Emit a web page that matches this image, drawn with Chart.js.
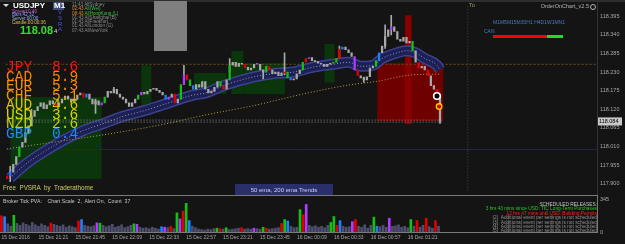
<!DOCTYPE html>
<html>
<head>
<meta charset="utf-8">
<script src="https://cdn.jsdelivr.net/npm/chart.js@4.4.0/dist/chart.umd.min.js"></script>
<style>
html, body { margin: 0; padding: 0; background: #141414; }
#wrap { position: relative; width: 625px; height: 244px; overflow: hidden; background: #141414; font-family: "Liberation Sans", Arial, sans-serif; }
canvas { position: absolute; left: 0; }
#main { top: 0; }
#vol { top: 196px; }
.t { position: absolute; white-space: pre; line-height: 1; }
.cur { position: absolute; font-family: "Liberation Mono", monospace; font-size: 14.5px; line-height: 9.5px; white-space: pre; }
</style>
</head>
<body>
<div id="wrap">
  <canvas id="main" width="625" height="196"></canvas>
  <canvas id="vol" width="625" height="48"></canvas>

  <div style="position:absolute;left:0;top:0;width:625px;height:2px;background:#2e2e2e"></div>
  <div style="position:absolute;left:597px;top:0;width:1px;height:195px;background:#333"></div>
  <div style="position:absolute;left:-1px;top:195px;width:599px;height:38px;box-sizing:border-box;border:1px solid #7a7a7a"></div>

  <!-- top left info -->
  <div style="position:absolute;left:3px;top:4px;width:0;height:0;border-left:3px solid transparent;border-right:3px solid transparent;border-top:3px solid #ddd"></div>
  <div class="t" style="left:13px;top:2px;font-size:8px;font-weight:bold;color:#fff">USDJPY</div>
  <div style="position:absolute;left:53px;top:2px;width:11px;height:8px;background:#3d4a7a"></div>
  <div class="t" style="left:54px;top:2px;font-size:8px;font-weight:bold;color:#fff">M1</div>
  <div class="t" style="left:12px;top:9.5px;font-size:4.6px;color:#c860c8">Spread:0.40</div>
  <div class="t" style="left:12px;top:13.2px;font-size:4.6px;color:#8aa0ff">Bars:42 32</div>
  <div class="t" style="left:12px;top:16.9px;font-size:4.6px;color:#90b8e8">Server:00:00</div>
  <div class="t" style="left:12px;top:20.6px;font-size:4.6px;color:#e0c050">Candle:00:00:36</div>
  <div class="t" style="left:20px;top:24.6px;font-size:11px;font-weight:bold;color:#33dd33">118.08</div>
  <div class="t" style="left:54px;top:28px;font-size:6px;color:#ddd">4</div>
  <div class="t" style="left:58px;top:10px;font-size:6px;line-height:5.8px;color:#4a5ad8">V<br>S<br>R<br>A</div>
  <div class="t" style="left:72px;top:3px;font-size:4.6px;line-height:4.3px;color:#8c8c8c">11:43 AllSydney
<span style="color:#e09030">02:43</span> <span style="color:#40c040">All(Wel)</span>
<span style="color:#e09030">08:43</span> <span style="color:#40c040">AllHongKong (L)</span>
01:43 AllShanghai (B)
01:43 AllFrankfurt
01:43 AllLondon (G)
07:43 AllNewYork</div>
  <div style="position:absolute;left:154px;top:1px;width:33px;height:50px;background:#7f7f7f"></div>

  <!-- currency strength -->
  <div id="cur"></div>

  <!-- right top -->
  <div class="t" style="left:469px;top:3px;font-size:5.5px;color:#a0a060">To</div>
  <div class="t" style="right:36px;top:4px;font-size:5.5px;color:#b4b4b4">OrderOnChart_v2.5</div>
  <div style="position:absolute;left:590px;top:3.5px;width:4px;height:4px;border:1px solid #b4b4b4;border-radius:50%"></div>
  <div class="t" style="left:493px;top:20px;font-size:5px;color:#4a7ab8">M1M5M15M30H1 H4D1W1MN1</div>
  <div class="t" style="left:484px;top:28.5px;font-size:5px;color:#4a7ab8">CAN</div>
  <div style="position:absolute;left:493px;top:35px;width:54px;height:2.5px;background:#ff0000"></div>
  <div style="position:absolute;left:547px;top:35px;width:16px;height:2.5px;background:#22dd22"></div>

  <!-- bottom of main -->
  <div class="t" style="left:3px;top:185px;font-size:6.3px;color:#cccc66">Free  PVSRA  by  Traderathome</div>
  <div style="position:absolute;left:235px;top:184px;width:98px;height:11px;background:#2a2e6a"></div>
  <div class="t" style="left:235px;top:186.5px;width:98px;text-align:center;font-size:6px;color:#c8d0ff">50 ema, 200 ema Trends</div>

  <!-- volume panel -->
  <div class="t" style="left:3px;top:198.5px;font-size:5.2px;color:#c8c8c8">Broker Tick PVA:    Chart Scale  2,  Alert On,  Count  37</div>
  <div class="t" style="right:28px;top:203px;font-size:4.8px;line-height:4.4px;text-align:right;color:#909090"><span style="color:#c8c8c8">SCHEDULED RELEASES:</span>
<span style="color:#22cc22">3 hrs 43 mins since USD: TIC Long-Term Purchases</span>
<span style="color:#ff2020">12 hrs 47 mins until USD: Building Permits</span>
(2)  Additional event per settings is not scheduled
(3)  Additional event per settings is not scheduled
(4)  Additional event per settings is not scheduled
(5)  Additional event per settings is not scheduled</div>
</div>

<script>
// time axis: one slot = 2 minutes
const tickSlots = [0, 12, 24, 36, 48, 60, 72, 84, 96, 108, 120, 132];
const tickLabels = ["15 Dec 2016", "15 Dec 21:21", "15 Dec 21:45", "15 Dec 22:09", "15 Dec 22:33", "15 Dec 22:57",
  "15 Dec 23:21", "15 Dec 23:45", "16 Dec 00:09", "16 Dec 00:33", "16 Dec 00:57", "16 Dec 01:21"];
const priceTicks = [117.900, 117.955, 118.010, 118.065, 118.120, 118.175, 118.230, 118.285, 118.340, 118.395];

const closes = [
  117.923, 117.934, 117.957, 117.980, 118.008, 118.022, 118.051, 118.071, 118.099, 118.116,
  118.128, 118.139, 118.122, 118.133, 118.145, 118.136, 118.128, 118.139, 118.150, 118.159,
  118.150, 118.142, 118.150, 118.162, 118.168, 118.156, 118.165, 118.150, 118.136, 118.145,
  118.133, 118.139, 118.156, 118.173, 118.168, 118.179, 118.165, 118.156, 118.150, 118.139,
  118.128, 118.139, 118.150, 118.162, 118.170, 118.165, 118.173, 118.179, 118.182, 118.176,
  118.170, 118.162, 118.150, 118.156, 118.165, 118.139, 118.150, 118.193, 118.222, 118.207,
  118.190, 118.179, 118.193, 118.185, 118.202, 118.179, 118.168, 118.173, 118.185, 118.202,
  118.190, 118.179, 118.207, 118.250, 118.259, 118.247, 118.256, 118.253, 118.244, 118.236,
  118.242, 118.253, 118.253, 118.236, 118.230, 118.247, 118.236, 118.225, 118.230, 118.219,
  118.227, 118.230, 118.213, 118.207, 118.210, 118.225, 118.236, 118.259, 118.270, 118.273,
  118.264, 118.261, 118.256, 118.253, 118.247, 118.253, 118.256, 118.259, 118.270, 118.298,
  118.304, 118.296, 118.287, 118.276, 118.236, 118.219, 118.213, 118.207, 118.216, 118.242,
  118.247, 118.264, 118.287, 118.307, 118.335, 118.355, 118.364, 118.350, 118.327, 118.321,
  118.333, 118.316, 118.321, 118.293, 118.259, 118.242, 118.247, 118.236, 118.219, 118.190,
  118.179, 118.162, 118.084
];
const firstOpen = 117.915;

const wickSlots = [1, 8, 29, 35, 58, 73, 84, 91, 109, 117, 124, 126, 142];
const wickLows  = [117.906, 118.090, 118.108, 118.170, 118.205, 118.230, 118.210, 118.222, 118.270, 118.199, 118.300, 118.340, 118.078];
const wickHighs = [117.951, 118.120, 118.150, 118.185, 118.250, 118.270, 118.236, 118.287, 118.307, 118.215, 118.370, 118.398, 118.162];

const volumes = [
  170, 160, 86, 60, 175, 90, 70, 95, 80, 65,
  100, 75, 60, 85, 70, 55, 94, 80, 70, 60,
  75, 50, 65, 55, 45, 115, 130, 70, 60, 55,
  65, 95, 92, 70, 55, 65, 80, 50, 60, 75,
  45, 55, 70, 85, 80, 50, 40, 45, 35, 50,
  40, 30, 55, 50, 45, 60, 35, 200, 137, 218,
  300, 120, 60, 45, 30, 25, 20, 30, 25, 35,
  40, 35, 30, 45, 25, 30, 35, 40, 45, 30,
  35, 30, 40, 35, 30, 50, 40, 30, 35, 40,
  45, 90, 130, 115, 60, 45, 50, 234, 180, 288,
  70, 55, 65, 50, 60, 45, 70, 100, 162, 70,
  119, 60, 50, 55, 108, 130, 60, 50, 75, 40,
  70, 155, 60, 55, 70, 50, 144, 60, 65, 75,
  50, 60, 45, 130, 60, 120, 50, 70, 144, 55,
  40, 119, 60
];

// PVSRA bar classes
const pvsraSlots = [0, 1, 4, 16, 25, 26, 31, 32, 43, 44, 52, 53, 55, 57, 58, 59, 60, 61, 70, 71,
  73, 78, 82, 85, 86, 91, 92, 93, 97, 98, 99, 107, 108, 109, 110, 114, 115, 121, 122, 126,
  133, 135, 138, 141];
const pvsraKinds = ["climaxBear", "risingBull", "climaxBull", "climaxBear", "climaxBear", "risingBull", "risingBear", "climaxBull", "climaxBull", "risingBear",
  "risingBull", "risingBear", "climaxBear", "climaxBull", "risingBear", "climaxBear", "climaxBull", "risingBull", "climaxBull", "climaxBear",
  "climaxBull", "climaxBear", "risingBear", "climaxBull", "climaxBear", "climaxBear", "climaxBull", "risingBull", "climaxBull", "climaxBear",
  "risingBear", "climaxBull", "climaxBull", "climaxBear", "risingBull", "risingBear", "climaxBear", "climaxBull", "risingBull", "risingBear",
  "climaxBull", "climaxBear", "climaxBear", "climaxBear"];

const ema50Slots = [1, 6, 12, 19, 25, 32, 38, 45, 51, 61, 65, 71, 81, 87, 94, 100, 107, 112, 116, 120, 123, 128, 131, 134, 137, 141, 142];
const ema50 = [117.917, 117.957, 117.994, 118.031, 118.057, 118.079, 118.099, 118.116, 118.133, 118.162, 118.168, 118.190, 118.216,
  118.225, 118.230, 118.244, 118.253, 118.259, 118.247, 118.250, 118.270, 118.287, 118.293, 118.287, 118.270, 118.250, 118.236];
const ema200Slots = [0, 32, 51, 65, 81, 97, 113, 121, 133, 142];
const ema200 = [118.003, 118.045, 118.075, 118.103, 118.131, 118.165, 118.193, 118.202, 118.222, 118.224];

// supply / demand zones (slot edges, prices)
const greenFrom = [1.1, 44.0, 61.3, 73.6, 77.5, 104.1];
const greenTo = [31.0, 47.3, 72.0, 77.5, 91.1, 107.4];
const greenTop = [118.156, 118.250, 118.227, 118.293, 118.256, 118.313];
const greenBottom = [117.914, 118.102, 118.165, 118.165, 118.165, 118.199];
const redFrom = [121.4, 130.5];
const redTo = [143.1, 132.7];
const redTop = [118.256, 118.398];
const redBottom = [118.085, 118.076];

const resistanceLevel = 118.253;
const pivotLevel = 118.001;
const supportLevels = [118.088, 118.082];
const orderLineSlot = 151.1;

const markerSlots = [141.0, 141.7];
const markerPrices = [118.159, 118.128];

const currencies = ["JPY", "CAD", "EUR", "CHF", "AUD", "USD", "NZD", "GBP"];
const strengths = ["8.6", "5.9", "5.3", "5.1", "4.6", "3.6", "2.6", "0.4"];

const kindColor = { climaxBear: "#e00000", climaxBull: "#14c014", risingBull: "#1e7fff", risingBear: "#b03cff" };
const candleColor = "#a8a8a8";
const volColor = "#4e4e6e";
const slotMin = -0.5, slotMax = 193.5;

let kindAt = {};
pvsraSlots.forEach(function (s, i) { kindAt[s] = pvsraKinds[i]; });

// currency table
let curHtml = "";
currencies.forEach(function (c, i) {
  let colors = ["#ff1010", "#ff8000", "#ff8c00", "#f29600", "#e6be00", "#dcd400", "#c4d000", "#1e8cff"];
  let top = 63 + i * 9.5;
  curHtml += `<div class="cur" style="left:6px;top:${top}px;color:${colors[i]}">${c}</div>`;
  curHtml += `<div class="cur" style="left:52px;top:${top}px;color:${colors[i]}">${strengths[i]}</div>`;
});
document.getElementById("cur").innerHTML = curHtml;

let bodies = closes.map(function (c, i) {
  return { x: i, y: [i ? closes[i - 1] : firstOpen, c] };
});
let bodyColors = closes.map(function (c, i) {
  return kindAt[i] ? kindColor[kindAt[i]] : candleColor;
});
let wicks = wickSlots.map(function (s, i) {
  return { x: s, y: [wickLows[i], wickHighs[i]] };
});
let band = ema50Slots.map(function (s, i) { return { x: s, y: ema50[i] }; });
let slow = ema200Slots.map(function (s, i) { return { x: s, y: ema200[i] }; });

let hline = function (price, from, to, color, dash, order) {
  return {
    type: "line", data: [{ x: from, y: price }, { x: to, y: price }],
    borderColor: color, borderWidth: 1, borderDash: dash, pointRadius: 0, order: order
  };
};

let zonePlugin = {
  id: "zones",
  beforeDatasetsDraw: function (chart) {
    let ctx = chart.ctx, x = chart.scales.x, y = chart.scales.y;
    ctx.save();
    let fill = function (f, t, top, bottom, color) {
      let x0 = x.getPixelForValue(f), x1 = x.getPixelForValue(t);
      let y0 = y.getPixelForValue(top), y1 = y.getPixelForValue(bottom);
      ctx.fillStyle = color;
      ctx.fillRect(x0, y0, x1 - x0, y1 - y0);
    };
    greenFrom.forEach(function (f, i) { fill(f, greenTo[i], greenTop[i], greenBottom[i], "#0b350b"); });
    fill(redFrom[0], redTo[0], redTop[0], redBottom[0], "#6e0000");
    fill(redFrom[1], redTo[1], redTop[1], redBottom[1], "#880000");
    ctx.restore();
  },
  afterDraw: function (chart) {
    let ctx = chart.ctx, y = chart.scales.y;
    let last = closes[closes.length - 1];
    let py = y.getPixelForValue(last);
    ctx.save();
    ctx.fillStyle = "#c8c8c8";
    ctx.fillRect(597, py - 4, 25, 8);
    ctx.fillStyle = "#000";
    ctx.font = "5.5px 'Liberation Sans'";
    ctx.textBaseline = "middle";
    ctx.fillText(last.toFixed(3), 599, py + 0.5);
    ctx.restore();
  }
};

let chartDraw = function () {
  let mainCtx = document.getElementById("main").getContext("2d");
  new Chart(mainCtx, {
    type: "bar",
    data: {
      datasets: [
        hline(resistanceLevel, slotMin, slotMax, "#6b5420", [2, 2], 20),
        hline(pivotLevel, slotMin, slotMax, "#1e2a48", [], 20),
        {
          type: "line", data: [{ x: orderLineSlot, y: 117.88 }, { x: orderLineSlot, y: 118.43 }],
          borderColor: "#4a4a30", borderWidth: 1, borderDash: [1, 2], pointRadius: 0, order: 19
        },
        { type: "line", data: band, borderColor: "#3b4190", borderWidth: 11, pointRadius: 0, cubicInterpolationMode: "monotone", order: 12 },
        { type: "line", data: band, borderColor: "#1d2052", borderWidth: 8, pointRadius: 0, cubicInterpolationMode: "monotone", order: 11 },
        { type: "line", data: band, borderColor: "#8f96d0", borderWidth: 1, borderDash: [1, 2], pointRadius: 0, cubicInterpolationMode: "monotone", order: 10 },
        { type: "line", data: slow, borderColor: "#b8a040", borderWidth: 1, borderDash: [1, 2], pointRadius: 0, cubicInterpolationMode: "monotone", order: 9 },
        hline(supportLevels[0], slotMin, 142.5, "#8a8a8a", [1, 2], 8),
        hline(supportLevels[1], slotMin, 142.5, "#8a8a8a", [1, 2], 8),
        { data: wicks, backgroundColor: candleColor, barThickness: 1, grouped: false, order: 4 },
        { data: bodies, backgroundColor: bodyColors, barThickness: 1.6, minBarLength: 1, grouped: false, order: 3 },
        {
          type: "scatter", data: markerSlots.map(function (s, i) { return { x: s, y: markerPrices[i] }; }),
          pointStyle: "circle", pointRadius: [3.3, 2.8], pointBackgroundColor: ["#000000", "#dd0000"],
          pointBorderColor: ["#ffffff", "#ffd000"], pointBorderWidth: [1.6, 1.3], order: 1
        }
      ]
    },
    options: {
      responsive: false,
      animation: false,
      devicePixelRatio: 1,
      layout: { padding: { top: 3, bottom: 1, left: 0, right: 0 } },
      plugins: { legend: { display: false }, tooltip: { enabled: false } },
      scales: {
        x: { type: "linear", min: slotMin, max: slotMax, offset: false, display: false },
        y: {
          position: "right", min: 117.880, max: 118.4265,
          grid: { display: false, drawTicks: false }, border: { display: false },
          ticks: { color: "#a8a8a8", font: { size: 5.5, family: "Liberation Sans" }, padding: 3, callback: function (v) { return v.toFixed(3); } },
          afterBuildTicks: function (s) { s.ticks = priceTicks.map(function (v) { return { value: v }; }); },
          afterFit: function (s) { s.width = 28; s.paddingTop = 0; s.paddingBottom = 0; }
        }
      }
    },
    plugins: [zonePlugin]
  });

  let volCtx = document.getElementById("vol").getContext("2d");
  new Chart(volCtx, {
    type: "bar",
    data: {
      datasets: [{
        data: volumes.map(function (v, i) { return { x: i, y: v }; }),
        backgroundColor: volumes.map(function (v, i) { return kindAt[i] ? kindColor[kindAt[i]] : volColor; }),
        barThickness: 2, grouped: false
      }]
    },
    options: {
      responsive: false,
      animation: false,
      devicePixelRatio: 1,
      layout: { padding: { top: 3, bottom: 0, left: 0, right: 0 } },
      plugins: { legend: { display: false }, tooltip: { enabled: false } },
      scales: {
        x: {
          type: "linear", min: slotMin, max: slotMax, offset: false,
          grid: { display: false, drawTicks: false }, border: { display: false },
          ticks: {
            color: "#a8a8a8", font: { size: 5, family: "Liberation Sans" }, padding: 3, align: "start",
            autoSkip: false, maxRotation: 0,
            callback: function (v, i) { return tickLabels[i]; }
          },
          afterBuildTicks: function (s) { s.ticks = tickSlots.map(function (v) { return { value: v }; }); },
          afterFit: function (s) { s.height = 12; s.paddingLeft = 0; s.paddingRight = 0; }
        },
        y: {
          position: "right", min: 0, max: 345,
          grid: { display: false, drawTicks: false }, border: { display: false },
          ticks: { color: "#a8a8a8", font: { size: 5.5, family: "Liberation Sans" }, padding: 3 },
          afterBuildTicks: function (s) { s.ticks = [{ value: 0 }, { value: 345 }]; },
          afterFit: function (s) { s.width = 28; s.paddingTop = 0; s.paddingBottom = 0; }
        }
      }
    }
  });
};

window.onload = function () {
  chartDraw();
};
</script>
</body>
</html>
